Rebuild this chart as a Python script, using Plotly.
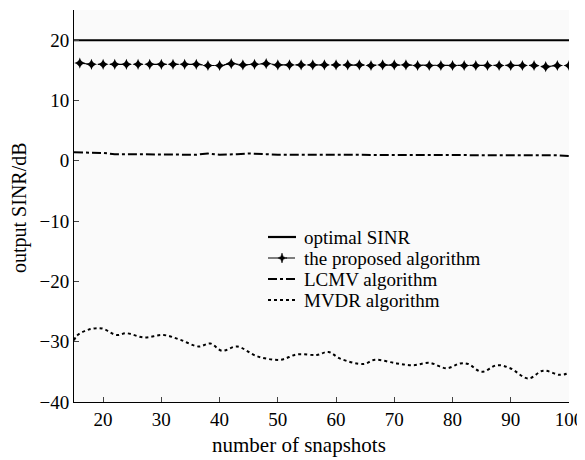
import plotly.graph_objects as go

# x axis: number of snapshots
opt_x = [15, 100]
opt_y = [20, 20]

prop_x = list(range(16, 101, 2))
prop_y = [16.2, 16.0, 16.0, 16.0, 16.0, 16.0, 16.0, 16.0, 16.0, 16.0,
          16.0, 15.8, 15.8, 16.1, 15.9, 16.0, 16.1, 15.9, 15.9, 15.9,
          15.9, 15.9, 15.9, 15.9, 15.9, 15.8, 15.9, 15.9, 15.9, 15.8,
          15.8, 15.8, 15.8, 15.8, 15.8, 15.8, 15.8, 15.8, 15.8, 15.8,
          15.6, 15.8, 15.8]

lcmv_x = [15, 18, 20, 22, 25, 28, 30, 33, 36, 38, 40, 43, 45, 48, 50, 55, 60, 65, 70, 75, 80, 85, 90, 95, 98, 100]
lcmv_y = [1.4, 1.4, 1.3, 1.1, 1.1, 1.1, 1.0, 1.0, 1.0, 1.2, 1.0, 1.1, 1.2, 1.1, 1.0, 1.0, 1.0, 1.0, 1.0, 1.0, 1.0, 1.0, 1.0, 1.0, 0.9, 0.8]

mvdr_x = [15, 15.5, 17.5, 19.8, 22.3, 24, 27, 30.4, 33.3, 36.4, 38.4, 40.4, 43, 46.4, 50.4, 53.3, 56.7,
          58.7, 60.7, 64.7, 66.7, 70.4, 73.3, 76, 79, 81.3, 82.7, 85, 87.6, 89.9, 93, 95.6, 98.4, 100]
mvdr_y = [-29.8, -29.0, -28.0, -27.8, -28.9, -28.6, -29.3, -28.9, -29.7, -30.8, -30.3, -31.5, -30.8, -32.4,
          -33.0, -32.1, -32.2, -31.7, -32.8, -33.7, -33.0, -33.6, -33.9, -33.5, -34.4, -33.6, -33.7, -35.0,
          -33.9, -34.4, -36.1, -34.8, -35.5, -35.2]

x_ticks = [20, 30, 40, 50, 60, 70, 80, 90, 100]
y_ticks = [-40, -30, -20, -10, 0, 10, 20]

series_names = ["optimal SINR", "the proposed algorithm", "LCMV algorithm", "MVDR algorithm"]

FONT = "Liberation Serif"
OFF = 8  # default page body margin; figure is drawn inset by this amount
W, H = 585 - OFF, 460 - OFF
# target page-pixel geometry of the plot area
PL, PR, PT, PB = 74, 569, 10, 402
ML, MR, MT, MB = PL - OFF, 585 - PR, PT - OFF, 460 - PB
PW, PH = W - ML - MR, H - MT - MB


def px(xp):
    return (xp - PL) / PW


def py(yp):
    return (PB - yp) / PH


fig = go.Figure()
fig.add_trace(go.Scatter(x=opt_x, y=opt_y, mode="lines", name=series_names[0],
                         line=dict(color="black", width=2)))
fig.add_trace(go.Scatter(x=prop_x, y=prop_y, mode="lines+markers", name=series_names[1],
                         line=dict(color="black", width=1.2, dash="dashdot"),
                         marker=dict(symbol="star-diamond", size=8, color="black")))
fig.add_trace(go.Scatter(x=lcmv_x, y=lcmv_y, mode="lines", name=series_names[2],
                         line=dict(color="black", width=2, dash="dashdot")))
fig.add_trace(go.Scatter(x=mvdr_x, y=mvdr_y, mode="lines", name=series_names[3],
                         line=dict(color="black", width=2, dash="dot", shape="spline")))

# legend drawn by hand (tight row spacing as in the reference)
row_y = [237, 258, 279, 300]
dashes = ["solid", "dashdot", "dashdot", "dot"]
widths = [2.2, 1.2, 2, 2]
shapes = []
annotations = []
for name, ry, d, w in zip(series_names, row_y, dashes, widths):
    shapes.append(dict(type="line", xref="paper", yref="paper",
                       x0=px(268), x1=px(296), y0=py(ry), y1=py(ry),
                       line=dict(color="black", width=w, dash=d)))
    annotations.append(dict(text=name, xref="paper", yref="paper", x=px(302), y=py(ry),
                            xanchor="left", yanchor="middle", showarrow=False,
                            font=dict(family=FONT, size=19, color="black")))
# star marker for the proposed algorithm legend sample
star = "M 0 -5 L 1.2 -1.2 L 5 0 L 1.2 1.2 L 0 5 L -1.2 1.2 L -5 0 L -1.2 -1.2 Z"
shapes.append(dict(type="path", xref="paper", yref="paper", xsizemode="pixel", ysizemode="pixel",
                   xanchor=px(282), yanchor=py(row_y[1]), path=star,
                   fillcolor="black", line=dict(color="black", width=0.5)))

annotations.append(dict(text="number of snapshots", xref="paper", yref="paper",
                        x=px(299), y=py(445), xanchor="center", yanchor="middle", showarrow=False,
                        font=dict(family=FONT, size=21, color="black")))
annotations.append(dict(text="output SINR/dB", xref="paper", yref="paper", textangle=-90,
                        x=px(20), y=py(208), xanchor="center", yanchor="middle", showarrow=False,
                        font=dict(family=FONT, size=20, color="black")))

fig.update_layout(
    width=W, height=H,
    margin=dict(l=ML, r=MR, t=MT, b=MB, autoexpand=False),
    paper_bgcolor="white", plot_bgcolor="#fafafa",
    font=dict(family=FONT, size=19, color="black"),
    showlegend=False,
    shapes=shapes,
    annotations=annotations,
)
fig.update_xaxes(range=[15, 100], tickvals=x_ticks, ticks="inside", ticklen=5,
                 showline=True, linecolor="black", linewidth=1, showgrid=False, zeroline=False,
                 automargin=False, tickfont=dict(size=19))
fig.update_yaxes(range=[-40, 25], tickvals=y_ticks, ticks="inside", ticklen=5,
                 showline=True, linecolor="black", linewidth=1, showgrid=False, zeroline=False,
                 automargin=False, tickfont=dict(size=19))

fig.write_html("out.html")
